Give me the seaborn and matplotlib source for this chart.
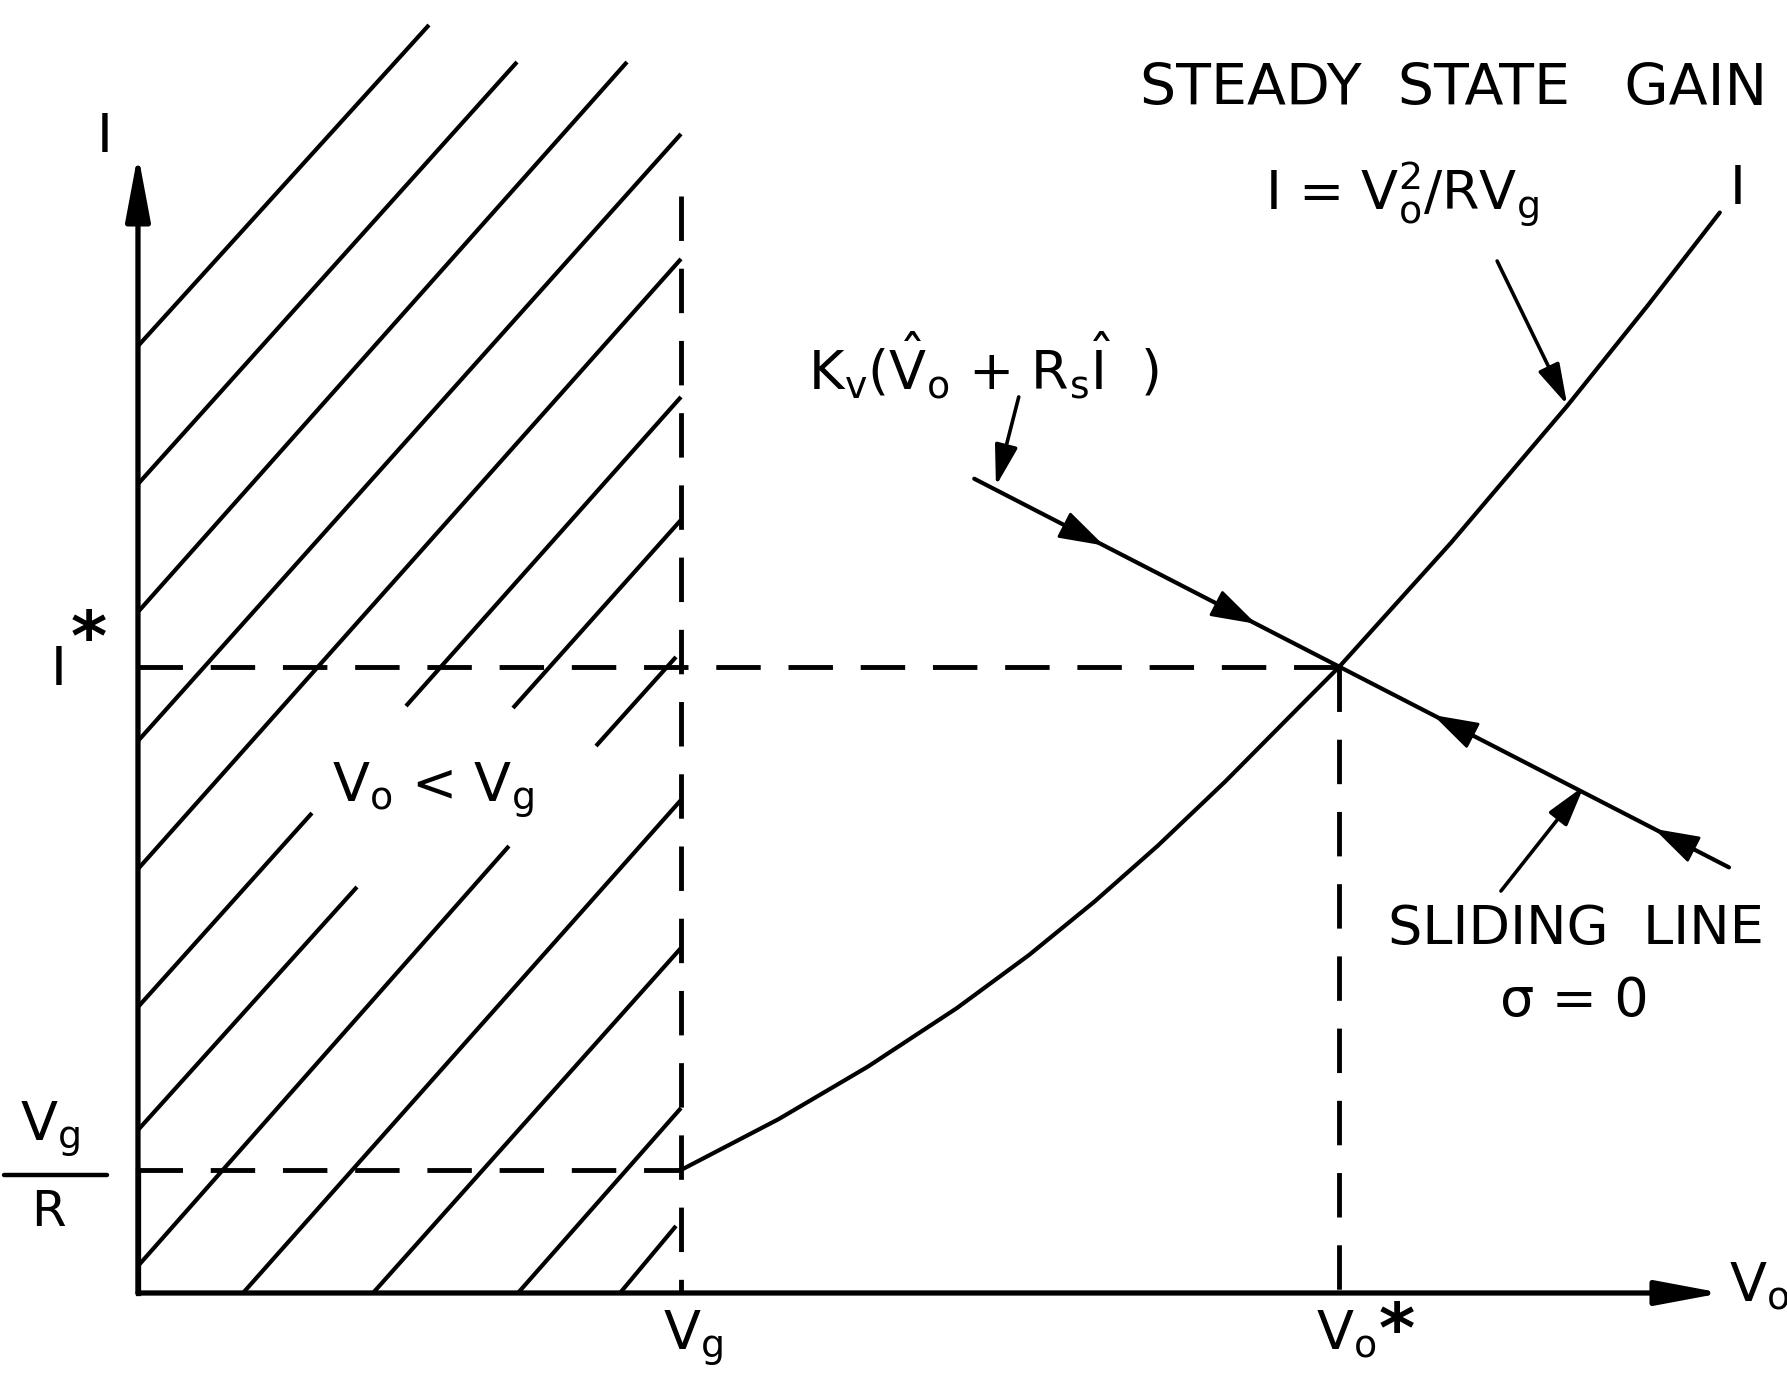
import numpy as np
import pandas as pd
import matplotlib
matplotlib.use("Agg")
import matplotlib.pyplot as plt
import seaborn as sns

# Phase-plane of the boost converter under sliding-mode control.
# Units: Vo in multiples of Vg, I in multiples of Vg/R.
VG = 1.0
VG_OVER_R = 1.0
VO_STAR = 2.212
I_STAR = 5.09
X_AXIS_END = 2.917
Y_AXIS_END = 9.26
VG_LINE_TOP = 8.92

# steady-state gain curve I = Vo^2 / (R Vg)
gain_vo = [1.0, 1.180, 1.344, 1.508, 1.641, 1.762, 1.878, 2.002, 2.140,
           2.212, 2.418, 2.632, 2.781, 2.913]
gain_i = [1.0, 1.414, 1.840, 2.316, 2.748, 3.184, 3.636, 4.157, 4.771,
          5.090, 6.099, 7.212, 8.032, 8.784]

# sliding line sigma = 0
slide_vo = [1.540, 2.930]
slide_i = [6.62, 3.46]
# trajectory arrowheads on the sliding line: tip position and direction
slide_arrow_vo = [1.779, 2.059, 2.385, 2.792]
slide_arrow_dir = [1, 1, -1, -1]

# hatching of the forbidden region Vo < Vg (segment start / end)
hatch_x0 = [0.0, 0.0, 0.0, 0.0, 0.0, 0.0, 0.4936, 0.0, 0.6906, 0.0, 0.8435,
            0.1934, 0.4328, 0.6998, 0.8877]
hatch_y0 = [7.699, 6.577, 5.537, 4.488, 3.447, 2.325, 4.772, 1.325, 4.756,
            0.2195, 4.447, 0.0, 0.0, 0.0, 0.0]
hatch_x1 = [0.5359, 0.6980, 0.9006, 1.0, 1.0, 0.3204, 1.0, 0.4033, 1.0,
            0.6832, 0.9908, 1.0, 1.0, 1.0, 0.9908]
hatch_y1 = [10.309, 10.008, 10.008, 9.423, 8.407, 3.902, 7.285, 3.301, 6.285,
            3.634, 5.171, 4.008, 2.805, 1.504, 0.545]

# pointer arrows for the annotations: (tail, head)
pointer_from = [(1.622, 7.285), (2.503, 8.390), (2.510, 3.268)]
pointer_to = [(1.580, 6.561), (2.632, 7.220), (2.663, 4.122)]

sns.set_theme(style="white")
plt.rcParams["font.family"] = ["DejaVu Sans"]
plt.rcParams["text.color"] = "black"
plt.rcParams["mathtext.fontset"] = "dejavusans"
plt.rcParams["mathtext.default"] = "regular"
plt.rcParams["lines.scale_dashes"] = False

fig = plt.figure(figsize=(17.87, 13.75), dpi=100)
ax = fig.add_axes([0, 0, 1, 1])
ax.set_xlim(-0.2541, 3.0368)
ax.set_ylim(-0.6667, 10.512)
ax.axis("off")

K = "black"
DASH = (32, 20)
LW_LINE = 3.0
LW_DASH = 3.5

# hatching
for x0, y0, x1, y1 in zip(hatch_x0, hatch_y0, hatch_x1, hatch_y1):
    ax.plot([x0, x1], [y0, y1], color=K, lw=LW_LINE, solid_capstyle="butt")

# construction lines
ax.plot([0, VO_STAR], [I_STAR, I_STAR], color=K, lw=LW_DASH, dashes=DASH)
ax.plot([0, VG], [VG_OVER_R, VG_OVER_R], color=K, lw=LW_DASH, dashes=DASH)
ax.plot([VG, VG], [VG_LINE_TOP, 0], color=K, lw=LW_DASH, dashes=DASH)
ax.plot([VO_STAR, VO_STAR], [I_STAR, 0], color=K, lw=LW_DASH, dashes=DASH)

# axes with arrowheads
axis_kw = dict(arrowstyle="-|>,head_length=0.8,head_width=0.15", color=K,
               lw=3.8, mutation_scale=50, shrinkA=0, shrinkB=0)
ax.annotate("", xy=(0, Y_AXIS_END), xytext=(0, 0), arrowprops=axis_kw)
ax.annotate("", xy=(X_AXIS_END, 0), xytext=(0, 0), arrowprops=axis_kw)
ax.plot([0, 0], [0, 1], color=K, lw=3.8, solid_capstyle="projecting")

# steady-state gain curve and sliding line
gain = pd.DataFrame({"Vo": gain_vo, "I": gain_i})
slide = pd.DataFrame({"Vo": slide_vo, "I": slide_i})
sns.lineplot(data=gain, x="Vo", y="I", sort=False, estimator=None,
             color=K, lw=LW_LINE, ax=ax)
sns.lineplot(data=slide, x="Vo", y="I", sort=False, estimator=None,
             color=K, lw=LW_LINE, ax=ax)

head_kw = dict(arrowstyle="-|>,head_length=0.95,head_width=0.3", color=K,
               lw=2.0, mutation_scale=30, shrinkA=0, shrinkB=0)
for vx, d in zip(slide_arrow_vo, slide_arrow_dir):
    tail = vx - d * 0.06
    ax.annotate("", xy=(vx, np.interp(vx, slide_vo, slide_i)),
                xytext=(tail, np.interp(tail, slide_vo, slide_i)),
                arrowprops=head_kw)

ptr_kw = dict(arrowstyle="-|>,head_length=1.0,head_width=0.28", color=K,
              lw=2.6, mutation_scale=25, shrinkA=0, shrinkB=0)
for p0, p1 in zip(pointer_from, pointer_to):
    ax.annotate("", xy=p1, xytext=p0, arrowprops=ptr_kw)

# labels
FS = 39
ax.text(2.422, 9.659, "STEADY  STATE   GAIN", fontsize=41, ha="center",
        va="baseline")
ax.text(2.328, 8.805, r"I = V$_o^2$/RV$_g$", fontsize=FS, ha="center",
        va="baseline")
ax.text(2.947, 8.854, "I", fontsize=FS, ha="center", va="baseline")
ax.text(1.234, 7.341, r"K$_v$($\hat{V}_o$ + R$_s\hat{I}$  )", fontsize=FS,
        ha="left", va="baseline")
ax.text(0.543, 3.992, r"V$_o$ < V$_g$", fontsize=FS, ha="center",
        va="baseline")
ax.text(2.648, 2.837, "SLIDING  LINE", fontsize=FS, ha="center",
        va="baseline")
ax.text(2.645, 2.252, "σ = 0", fontsize=FS, ha="center", va="baseline")

ax.text(2.930, -0.065, r"V$_o$", fontsize=FS, ha="left", va="baseline")
ax.text(0.967, -0.463, r"V$_g$", fontsize=FS, ha="left", va="baseline")
ax.text(2.170, -0.455, r"V$_o$", fontsize=FS, ha="left", va="baseline")
ax.text(2.318, -0.045, "*", fontsize=50, fontweight="bold", ha="center",
        va="top")
ax.text(-0.061, 9.276, "I", fontsize=FS, ha="center", va="baseline")
ax.text(-0.160, 4.943, "I", fontsize=FS, ha="left", va="baseline")
ax.text(-0.090, 5.580, "*", fontsize=50, fontweight="bold", ha="center",
        va="top")
ax.text(-0.217, 1.236, r"V$_g$", fontsize=FS, ha="left", va="baseline")
ax.plot([-0.2468, -0.0571], [0.959, 0.959], color=K, lw=3.2)
ax.text(-0.197, 0.545, "R", fontsize=36, ha="left", va="baseline")

fig.savefig("out.png", dpi=100, facecolor="white")
